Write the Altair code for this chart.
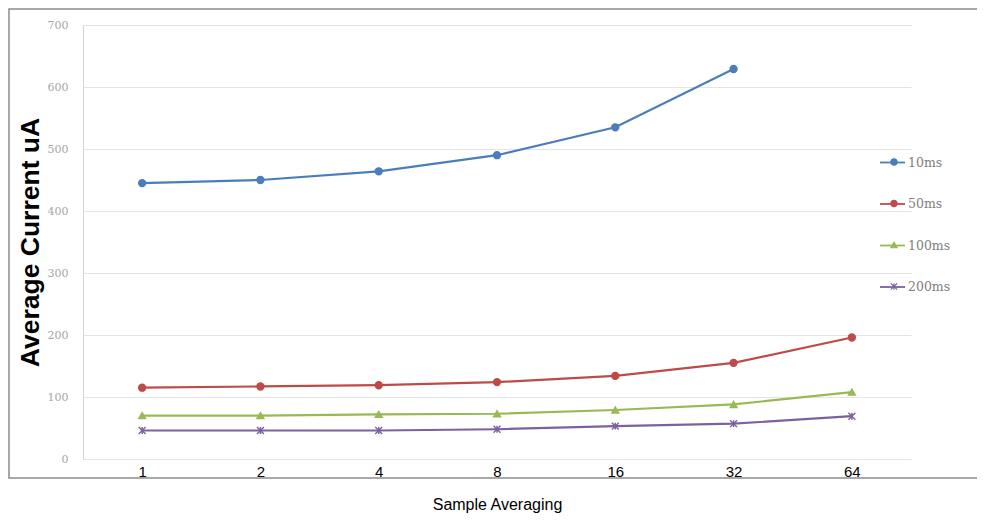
import altair as alt
import pandas as pd

categories = ["1", "2", "4", "8", "16", "32", "64"]
series_names = ["10ms", "50ms", "100ms", "200ms"]
vals_10ms = [445, 450, 464, 490, 535, 629, None]
vals_50ms = [115, 117, 119, 124, 134, 155, 196]
vals_100ms = [70, 70, 72, 73, 79, 88, 108]
vals_200ms = [46, 46, 46, 48, 53, 57, 69]
colors = ["#4A7EBB", "#BE4B48", "#98B954", "#7D60A0"]
y_ticks = [0, 100, 200, 300, 400, 500, 600, 700]

marker_names = ["m-" + s for s in series_names]

rows = []
for name, mname, vals in zip(series_names, marker_names,
                             [vals_10ms, vals_50ms, vals_100ms, vals_200ms]):
    for c, v in zip(categories, vals):
        if v is not None:
            rows.append({"avg": c, "series": name, "marker": mname, "value": v})
df = pd.DataFrame(rows)

star = "M-1,-1L1,1M-1,1L1,-1M0,-1L0,1"
point_shapes = ["circle", "circle", "triangle-up", star]

legend_lines = alt.Legend(
    title=None, orient="none", legendX=796, legendY=124, padding=0,
    symbolType="stroke", symbolSize=625, symbolStrokeWidth=1.8, rowPadding=21.5,
    labelOffset=2, labelFont="DejaVu Serif", labelFontSize=12.5, labelColor="#808080",
)
legend_marks = alt.Legend(
    title=None, orient="none", legendX=805, legendY=131, padding=0,
    symbolSize=40, symbolStrokeWidth=1.2, rowPadding=29.5,
    labelOffset=0, labelFontSize=12, labelExpr="''",
)

x_enc = alt.X("avg:N", sort=categories, title="Sample Averaging",
              axis=alt.Axis(labelAngle=0, grid=False, domain=False, ticks=False,
                            labelFont="Liberation Sans", labelFontSize=15, labelColor="#000000",
                            labelPadding=5, titleFont="Liberation Sans", titleFontSize=16,
                            titleFontWeight="normal", titleColor="#000000",
                            titleY=45, titleBaseline="middle"))
y_enc = alt.Y("value:Q", scale=alt.Scale(domain=[0, 700], nice=False), title="Average Current uA",
              axis=alt.Axis(values=y_ticks, grid=True, gridColor="#e4e4e4", ticks=False,
                            domainColor="#d4d4d4", labelFont="DejaVu Serif", labelFontSize=11,
                            labelColor="#a6a6a6", labelPadding=15,
                            titleFont="Liberation Sans", titleFontSize=26.5, titleFontWeight="bold",
                            titleColor="#000000", titleX=-45, titleY=217, titleAngle=270,
                            titleBaseline="alphabetic", titleAlign="center"))

base = alt.Chart(df)
lines = base.mark_line(strokeWidth=2.2).encode(
    x=x_enc, y=y_enc,
    color=alt.Color("series:N", scale=alt.Scale(domain=series_names, range=colors),
                    sort=series_names, legend=legend_lines),
)
points = base.mark_point(filled=True, size=48, strokeWidth=1.4, opacity=1).encode(
    x=x_enc, y=y_enc,
    fill=alt.Fill("marker:N", scale=alt.Scale(domain=marker_names, range=colors),
                  sort=marker_names, legend=legend_marks),
    stroke=alt.Stroke("marker:N", scale=alt.Scale(domain=marker_names, range=colors),
                      sort=marker_names, legend=legend_marks),
    shape=alt.Shape("marker:N", scale=alt.Scale(domain=marker_names, range=point_shapes),
                    sort=marker_names, legend=legend_marks),
)
frame = alt.Chart(pd.DataFrame({"f": [0]})).mark_rect(
    fill="transparent", stroke="#8c8c8c", strokeWidth=1.5
).encode(x=alt.value(-74), x2=alt.value(1000), y=alt.value(-16), y2=alt.value(453))

chart = alt.layer(frame, lines, points).properties(
    width=828, height=434,
    autosize=alt.AutoSizeParams(type="none"),
    padding={"left": 75, "top": 17, "right": 66, "bottom": 54},
).configure_view(stroke=None)

chart.save("out.html", embed_options={"renderer": "svg", "actions": False})
